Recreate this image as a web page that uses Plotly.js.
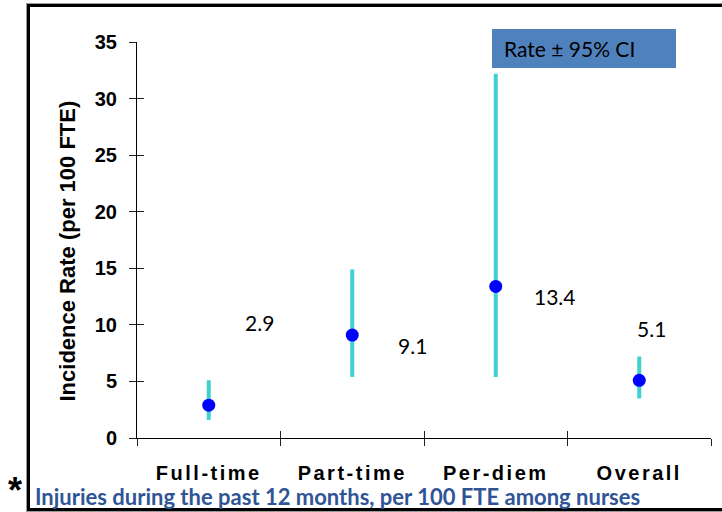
<!DOCTYPE html>
<html>
<head>
<meta charset="utf-8">
<script src="https://cdn.plot.ly/plotly-3.0.1.min.js"></script>
<style>
  html, body { margin: 0; padding: 0; background: #fff; }
  #wrap { position: relative; width: 722px; height: 512px; overflow: hidden; }
  #frameGray { position: absolute; left: 26px; top: 3px; width: 800px; height: 507px;
    border-left: 1px solid #9a9a9a; border-top: 1px solid #9a9a9a; border-bottom: 1px solid #9a9a9a; }
  #frameBlack { position: absolute; left: 27px; top: 4px; width: 800px; height: 501px;
    border-left: 3px solid #000; border-top: 3px solid #000; border-bottom: 3px solid #000; }
  #chart { position: absolute; left: 0; top: 0; width: 722px; height: 512px; }
  .xtick text { letter-spacing: 2.5px; }
</style>
</head>
<body>
<div id="wrap">
  <div id="frameGray"></div>
  <div id="frameBlack"></div>
  <div id="chart"></div>
</div>
<script>
const categories = ["Full-time", "Part-time", "Per-diem", "Overall"];
const rates = [2.9, 9.1, 13.4, 5.1];
const ciLow = [1.6, 5.4, 5.4, 3.5];
const ciHigh = [5.1, 14.9, 32.2, 7.2];
const yTicks = [0, 5, 10, 15, 20, 25, 30, 35];

const labelShiftX = [51, 60, 59, 12];
const labelShiftY = [83, -10, -10, 52];

const errPlus = rates.map((r, i) => +(ciHigh[i] - r).toFixed(2));
const errMinus = rates.map((r, i) => +(r - ciLow[i]).toFixed(2));

const mainTrace = {
  type: "scatter", mode: "markers",
  x: categories, y: rates,
  marker: { size: 13, color: "#0000FF" },
  error_y: { type: "data", symmetric: false, array: errPlus, arrayminus: errMinus,
             thickness: 4, width: 0, color: "#3FD0D0" },
  hoverinfo: "x+y", showlegend: false
};
const ghostTrace = {
  type: "scatter", mode: "markers",
  x: categories, y: rates, xaxis: "x2", yaxis: "y2",
  marker: { size: 1, opacity: 0 }, hoverinfo: "skip", showlegend: false
};

const tickFont = { family: "Liberation Sans, Arial, sans-serif", size: 20, color: "#000", weight: 700 };

const annotations = rates.map((r, i) => ({
  x: categories[i], y: r, xref: "x", yref: "y",
  text: r.toFixed(1), showarrow: false,
  xshift: labelShiftX[i], yshift: labelShiftY[i],
  font: { family: "Lato, sans-serif", size: 21, color: "#000" }
}));
annotations.push({
  xref: "paper", yref: "paper", x: (502 - 137) / 574, y: (438 - 48.5) / 396,
  xanchor: "left", yanchor: "middle", showarrow: false,
  text: "Rate ± 95% CI",
  font: { family: "Lato, sans-serif", size: 21, color: "#000" }
});
annotations.push({
  xref: "paper", yref: "paper", x: (67 - 137) / 574, y: (438 - 251.5) / 396,
  xanchor: "center", yanchor: "middle", showarrow: false, textangle: -90,
  text: "Incidence Rate (per 100 FTE)",
  font: { family: "Liberation Sans, Arial, sans-serif", size: 22, color: "#000", weight: 700 }
});
annotations.push({
  xref: "paper", yref: "paper", x: (33 - 137) / 574, y: (438 - 496) / 396,
  xanchor: "left", yanchor: "middle", showarrow: false,
  text: "Injuries during the past 12 months, per 100 FTE among nurses",
  font: { family: "Lato, sans-serif", size: 22, color: "#2F5597", weight: 700 }
});
annotations.push({
  xref: "paper", yref: "paper", x: (15 - 137) / 574, y: (438 - 490) / 396,
  xanchor: "center", yanchor: "middle", showarrow: false,
  text: "*",
  font: { family: "Liberation Sans, Arial, sans-serif", size: 36, color: "#000", weight: 700 }
});

const layout = {
  width: 722, height: 512,
  margin: { l: 137, r: 11, t: 42, b: 74 },
  paper_bgcolor: "rgba(0,0,0,0)", plot_bgcolor: "rgba(0,0,0,0)",
  showlegend: false,
  xaxis: {
    type: "category", categoryarray: categories, range: [-0.5, 3.5],
    tickson: "boundaries", ticks: "outside", ticklen: 7, tickwidth: 1, tickcolor: "#222",
    showline: true, linecolor: "#000", linewidth: 1, showgrid: false, zeroline: false,
    tickfont: tickFont, ticklabelstandoff: 17, fixedrange: true
  },
  xaxis2: {
    type: "category", categoryarray: categories, range: [-0.5, 3.5], overlaying: "x", anchor: "y",
    tickson: "boundaries", ticks: "inside", ticklen: 7, tickwidth: 1, tickcolor: "#222",
    showline: false, showgrid: false, zeroline: false, showticklabels: false, fixedrange: true
  },
  yaxis: {
    range: [0, 35], tickvals: yTicks, ticktext: yTicks.map(String),
    ticks: "outside", ticklen: 7, tickwidth: 1, tickcolor: "#222",
    showline: true, linecolor: "#000", linewidth: 1, showgrid: false, zeroline: false,
    tickfont: tickFont, ticklabelstandoff: 8, fixedrange: true
  },
  yaxis2: {
    range: [0, 35], tickvals: yTicks, overlaying: "y", anchor: "x", side: "left",
    ticks: "inside", ticklen: 7, tickwidth: 1, tickcolor: "#222",
    showline: false, showgrid: false, zeroline: false, showticklabels: false, fixedrange: true
  },
  shapes: [{
    type: "rect", xref: "paper", yref: "paper", layer: "below",
    x0: (492 - 137) / 574, x1: (676 - 137) / 574,
    y0: (438 - 68) / 396, y1: (438 - 29) / 396,
    fillcolor: "#4F81BD", line: { width: 0 }
  }],
  annotations: annotations
};

Plotly.newPlot("chart", [mainTrace, ghostTrace], layout, { displayModeBar: false, staticPlot: true });
</script>
</body>
</html>
